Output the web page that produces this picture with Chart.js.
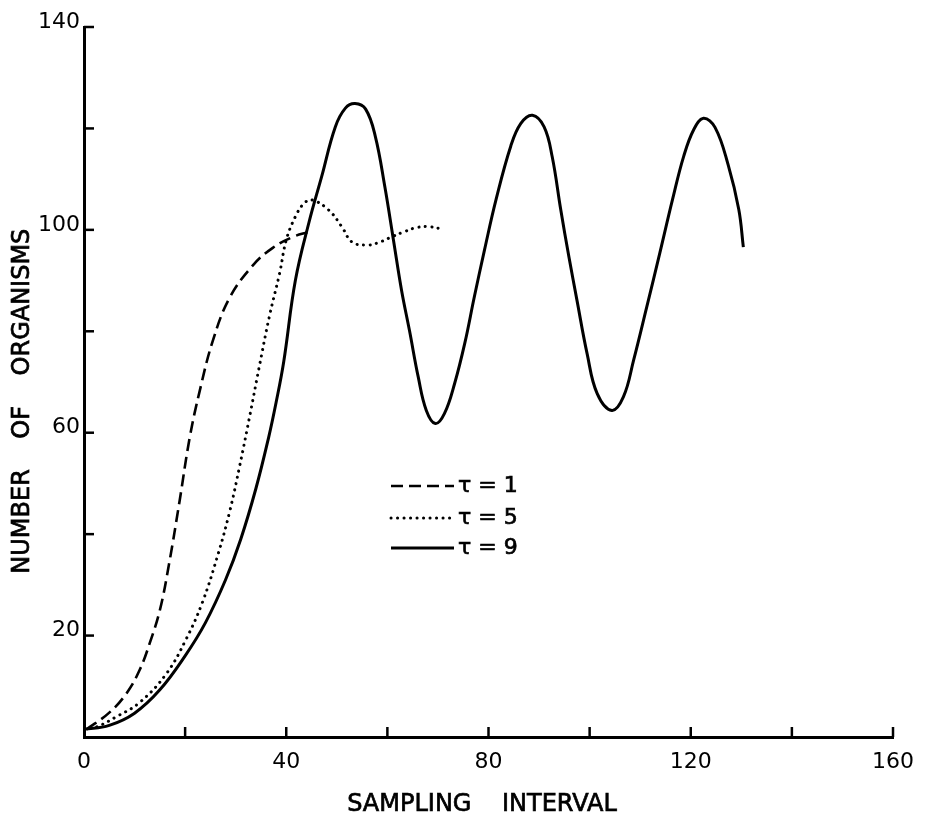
<!DOCTYPE html>
<html>
<head>
<meta charset="utf-8">
<script src="https://cdn.jsdelivr.net/npm/chart.js@4/dist/chart.umd.min.js"></script>
<style>
html,body{margin:0;padding:0;background:#fff;}
#wrap{width:926px;height:821px;position:relative;}
</style>
</head>
<body>
<div id="wrap"><canvas id="c" width="926" height="821"></canvas></div>
<script>
// ---- data ----
const seriesLabels = ['\u03c4 = 1', '\u03c4 = 5', '\u03c4 = 9'];

const tau1X = [0.5, 5, 8.4, 11, 13, 15, 16.8, 18.9, 20.9, 22.9, 25.5, 28.8, 33.4, 37.4, 41.3, 44.5];
const tau1Y = [1.5, 4.8, 8.6, 13.2, 18.5, 25, 34, 46.5, 59, 68.3, 78.2, 86.6, 93, 96.5, 98.6, 99.6];

const tau5X = [0, 2.5, 6.4, 11, 16.3, 20.2, 23.4, 26.5, 28.8, 30.8, 32.8, 34.7, 36.7, 38.7, 40, 41.8, 43.5, 45.1, 48.4, 51, 53, 55.8, 58, 60.8, 63.5, 66, 68.5, 71];
const tau5Y = [1.5, 2, 4, 6.8, 12.5, 19.3, 26.5, 36, 44.4, 53.5, 63.4, 73.2, 83.1, 91.5, 98, 102.6, 105.2, 105.9, 103.9, 100.6, 97.6, 97, 97.4, 98.6, 99.7, 100.5, 100.6, 100.1];

const tau9X = [0, 5, 10, 15, 20, 24, 28, 31, 34, 36.5, 38, 39.5, 41.8, 44.5, 47, 49.7, 51.7, 53.6, 55.7, 57.6, 59.5, 61.2, 62.8, 64.4, 66.1, 67.7, 69.5, 71.3, 73.3, 75.3, 77.2, 79.2, 81.5, 84.4, 86.4, 88.7, 91, 92.6, 94.3, 95.9, 97.5, 99.5, 101.5, 104.4, 106.7, 108.7, 111.3, 113.9, 116.4, 118.6, 120.6, 122.5, 124.8, 127.4, 129.5, 130.4];
const tau9Y = [1.5, 2.3, 4.7, 9.3, 16, 22.5, 31, 39, 49, 59, 66, 74, 90, 101.5, 110.5, 120.3, 124, 124.9, 123.8, 118.5, 108.5, 98, 88.1, 80, 71, 64.4, 61.8, 63.8, 69.7, 77.6, 86.8, 96, 106, 116.5, 121, 122.6, 120.3, 114.4, 103.9, 94.7, 86.1, 75.6, 67.7, 64.4, 67.1, 74.3, 84.8, 95.5, 106, 114.5, 119.8, 122, 120.2, 112.8, 104, 96.6];

const xLabelValues = [0, 40, 80, 120, 160];
const yLabelValues = [20, 60, 100, 140];
const xTitle = 'SAMPLING    INTERVAL';
const yTitle = 'NUMBER    OF    ORGANISMS';

// ---- chart ----
const pts = (xs, ys) => xs.map((x, i) => ({x: x, y: ys[i]}));
const FONT = '"DejaVu Sans", "Liberation Sans", sans-serif';

const styles = [
  {borderDash: [12, 6], borderWidth: 2.6, borderCapStyle: 'butt'},
  {borderDash: [0.1, 6.4], borderWidth: 3, borderCapStyle: 'round'},
  {borderDash: [], borderWidth: 3, borderCapStyle: 'butt'}
];

function heavyText(ctx, txt, x, y) {
  ctx.fillText(txt, x, y);
  ctx.lineWidth = 0.7;
  ctx.setLineDash([]);
  ctx.strokeText(txt, x, y);
}

const decor = {
  id: 'decor',
  afterDraw(chart) {
    const {ctx, chartArea: a, scales: {x, y}} = chart;
    ctx.save();
    ctx.strokeStyle = '#000';
    ctx.lineWidth = 2.5;
    ctx.setLineDash([]);
    // inward tick marks
    x.ticks.forEach(t => {
      if (t.value === x.min) return;
      const px = x.getPixelForValue(t.value);
      ctx.beginPath(); ctx.moveTo(px, a.bottom); ctx.lineTo(px, a.bottom - 10); ctx.stroke();
    });
    y.ticks.forEach(t => {
      if (t.value === y.min) return;
      const py = y.getPixelForValue(t.value);
      ctx.beginPath(); ctx.moveTo(a.left, py); ctx.lineTo(a.left + 10, py); ctx.stroke();
    });
    // axis titles
    ctx.fillStyle = '#000';
    ctx.font = '24px ' + FONT;
    ctx.textAlign = 'center';
    ctx.textBaseline = 'middle';
    heavyText(ctx, xTitle, a.left + (a.right - a.left) * 0.492, a.bottom + 68);
    ctx.save();
    ctx.translate(23, a.top + (a.bottom - a.top) * 0.527);
    ctx.rotate(-Math.PI / 2);
    heavyText(ctx, yTitle, 0, 0);
    ctx.restore();
    // legend inside plot
    const rows = [486, 518, 548];
    chart.data.datasets.forEach((ds, i) => {
      const ry = rows[i];
      ctx.save();
      ctx.lineWidth = ds.borderWidth;
      ctx.lineCap = ds.borderCapStyle;
      ctx.setLineDash(ds.borderDash);
      ctx.beginPath(); ctx.moveTo(391, ry); ctx.lineTo(454, ry); ctx.stroke();
      ctx.restore();
      ctx.font = '22px ' + FONT;
      ctx.textAlign = 'left';
      ctx.textBaseline = 'middle';
      heavyText(ctx, ds.label, 458, ry);
    });
    ctx.restore();
  }
};

new Chart(document.getElementById('c'), {
  type: 'line',
  data: {
    datasets: [
      Object.assign({label: seriesLabels[0], data: pts(tau1X, tau1Y)}, styles[0]),
      Object.assign({label: seriesLabels[1], data: pts(tau5X, tau5Y)}, styles[1]),
      Object.assign({label: seriesLabels[2], data: pts(tau9X, tau9Y)}, styles[2])
    ].map(d => Object.assign(d, {
      borderColor: '#000', backgroundColor: '#000', pointRadius: 0, fill: false,
      tension: 0.4
    }))
  },
  options: {
    responsive: false,
    animation: false,
    layout: {padding: {top: 27, right: 28, left: 0, bottom: 0}},
    plugins: {legend: {display: false}, tooltip: {enabled: false}},
    scales: {
      x: {
        type: 'linear', min: 0, max: 160,
        afterFit(s) { s.height = 84; },
        grid: {display: false, drawTicks: false},
        border: {display: true, color: '#000', width: 3},
        ticks: {
          stepSize: 20, color: '#000', padding: 12, maxRotation: 0, autoSkip: false,
          font: {family: FONT, size: 22},
          callback: v => xLabelValues.includes(v) ? String(v) : ''
        }
      },
      y: {
        type: 'linear', min: 0, max: 140,
        afterFit(s) { s.width = 84; },
        grid: {display: false, drawTicks: false},
        border: {display: true, color: '#000', width: 3},
        ticks: {
          stepSize: 20, color: '#000', padding: 4, labelOffset: -5, autoSkip: false,
          font: {family: FONT, size: 22},
          callback: v => yLabelValues.includes(v) ? String(v) : ''
        }
      }
    }
  },
  plugins: [decor]
});
</script>
</body>
</html>
